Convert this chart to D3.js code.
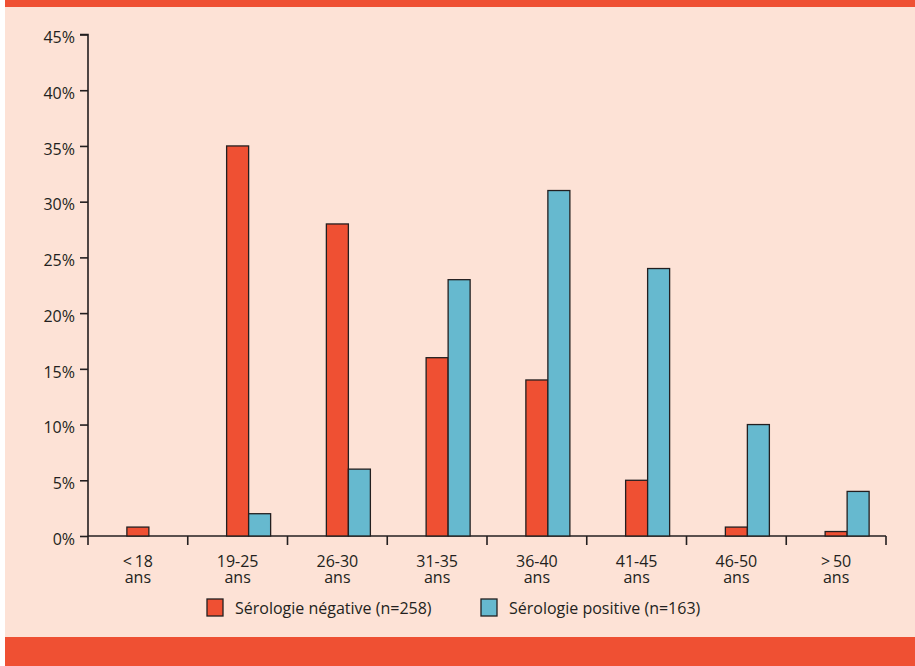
<!DOCTYPE html>
<html>
<head>
<meta charset="utf-8">
<script src="https://cdn.jsdelivr.net/npm/d3@7"></script>
<style>
  html, body { margin: 0; padding: 0; background: #ffffff; }
  svg { display: block; }
  text { font-family: "Open Sans", "Noto Sans", sans-serif; fill: #231f20; }
</style>
</head>
<body>
<svg id="chart" width="915" height="666"></svg>
<script>
// Age groups (two-line labels)
const categories = ["<18", "19-25", "26-30", "31-35", "36-40", "41-45", "46-50", ">50"];
const categoryUnit = "ans";
// Percent of patients per age group
const negativeValues = [0.8, 35, 28, 16, 14, 5, 0.8, 0.4];
const positiveValues = [0, 2, 6, 23, 31, 24, 10, 4];
const seriesNames = ["Sérologie négative (n=258)", "Sérologie positive (n=163)"];
const yTicks = [0, 5, 10, 15, 20, 25, 30, 35, 40, 45];

const W = 915, H = 666;
const colNeg = "#ef5033", colPos = "#66b9cf", bg = "#fde2d6", ink = "#231f20";
const fontSize = "16px";

const svg = d3.select("#chart");

// Panel background and the top/bottom orange bands
svg.append("rect").attr("x", 5).attr("y", 0).attr("width", W - 5).attr("height", H).attr("fill", bg);
svg.append("rect").attr("x", 5).attr("y", 0).attr("width", W - 5).attr("height", 7).attr("fill", colNeg);
svg.append("rect").attr("x", 5).attr("y", 637).attr("width", W - 5).attr("height", H - 637).attr("fill", colNeg);

const x = d3.scaleBand().domain(categories).range([88, 886]).padding(0);
const y = d3.scaleLinear().domain([0, 45]).range([536, 34.5]);
const barW = 22;

// Y axis
const yAxis = svg.append("g").attr("transform", "translate(88,0)")
  .call(d3.axisLeft(y).tickValues(yTicks).tickFormat(d => d + "%").tickSize(8).tickPadding(5));
yAxis.select(".domain").attr("stroke", ink).attr("stroke-width", 1.6).attr("d", `M-8,${y(45)}H0V${y(0)}`);
yAxis.selectAll(".tick line").attr("stroke", ink).attr("stroke-width", 1.6);
yAxis.selectAll(".tick text").style("font-size", fontSize).attr("fill", ink).attr("dy", "0.52em");

// X axis: ticks at band boundaries
const xg = svg.append("g");
xg.append("line").attr("x1", 88).attr("x2", 886).attr("y1", y(0)).attr("y2", y(0))
  .attr("stroke", ink).attr("stroke-width", 1.6);
const bounds = categories.map(c => x(c)).concat([x.range()[1]]);
xg.selectAll("line.tk").data(bounds).join("line").attr("class", "tk")
  .attr("x1", d => d).attr("x2", d => d).attr("y1", y(0)).attr("y2", y(0) + 9)
  .attr("stroke", ink).attr("stroke-width", 1.6);

const labels = xg.selectAll("g.cat").data(categories).join("g").attr("class", "cat")
  .attr("transform", d => `translate(${x(d) + x.bandwidth() / 2},0)`);
labels.append("text").attr("text-anchor", "middle").style("font-size", fontSize)
  .attr("y", 567).text(d => d.replace(/^([<>])/, "$1\u2009"));
labels.append("text").attr("text-anchor", "middle").style("font-size", fontSize)
  .attr("y", 583).text(categoryUnit);

// Bars: negative centred on the band, positive just to its right
const centre = d => x(d) + x.bandwidth() / 2;
svg.append("g").selectAll("rect").data(categories.map((c, i) => ({ c, v: negativeValues[i] })).filter(d => d.v > 0))
  .join("rect")
  .attr("x", d => centre(d.c) - barW / 2).attr("width", barW)
  .attr("y", d => y(d.v)).attr("height", d => y(0) - y(d.v))
  .attr("fill", colNeg).attr("stroke", ink).attr("stroke-width", 1.3);
svg.append("g").selectAll("rect").data(categories.map((c, i) => ({ c, v: positiveValues[i] })).filter(d => d.v > 0))
  .join("rect")
  .attr("x", d => centre(d.c) + barW / 2).attr("width", barW)
  .attr("y", d => y(d.v)).attr("height", d => y(0) - y(d.v))
  .attr("fill", colPos).attr("stroke", ink).attr("stroke-width", 1.3);

// Legend
const legend = [
  { name: seriesNames[0], color: colNeg, x: 207 },
  { name: seriesNames[1], color: colPos, x: 481 }
];
const lg = svg.append("g").selectAll("g").data(legend).join("g")
  .attr("transform", d => `translate(${d.x},599)`);
lg.append("rect").attr("width", 16).attr("height", 17).attr("fill", d => d.color)
  .attr("stroke", ink).attr("stroke-width", 1.3);
lg.append("text").attr("x", 28).attr("y", 14.5).style("font-size", fontSize).text(d => d.name);
</script>
</body>
</html>
